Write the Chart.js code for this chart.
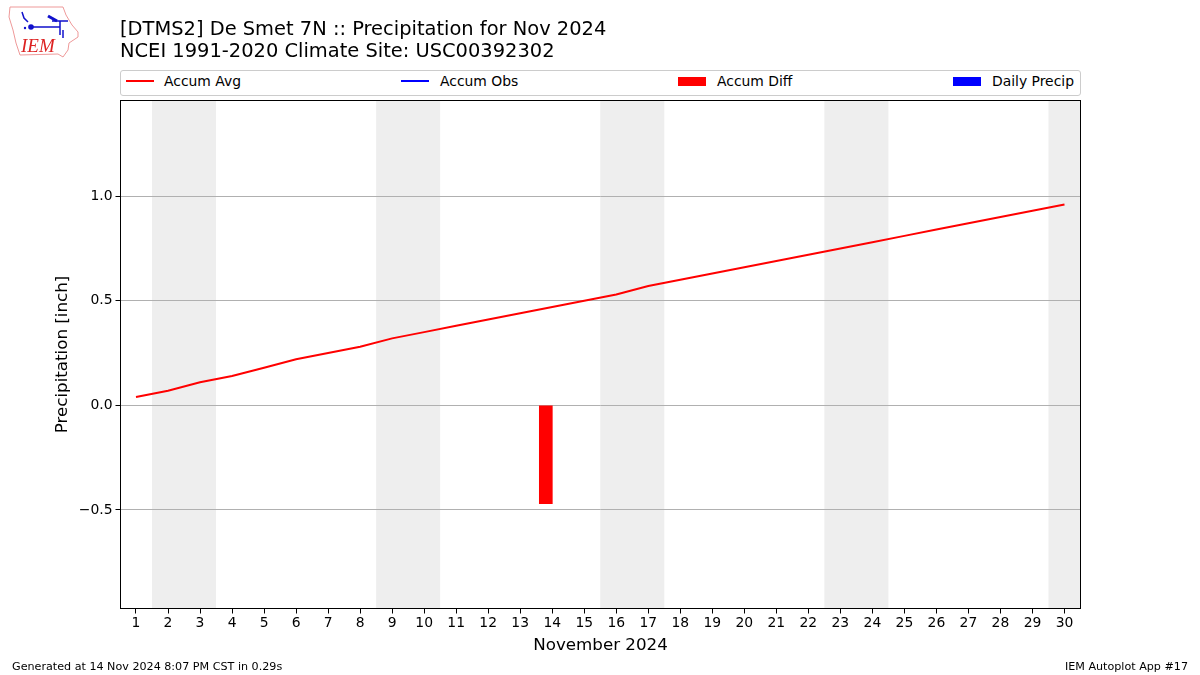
<!DOCTYPE html>
<html>
<head>
<meta charset="utf-8">
<title>DTMS2 Precipitation</title>
<script src="https://cdn.jsdelivr.net/npm/chart.js@4"></script>
<style>
  html, body { margin: 0; padding: 0; background: #fff; }
  body { width: 1200px; height: 675px; position: relative; overflow: hidden; font-family: "DejaVu Sans", sans-serif; color: #000; }
  #myChart { position: absolute; left: 0; top: 0; }
  .txt { position: absolute; white-space: nowrap; }
  #title { left: 120px; top: 18px; font-size: 19.45px; line-height: 22px; }
  #legend { position: absolute; left: 120px; top: 70px; width: 959px; height: 24px; border: 1px solid #ccc; border-radius: 3px; background: #fff; }
  .swatch { position: absolute; width: 28px; }
  .label { position: absolute; top: 2px; font-size: 13.9px; line-height: 17px; white-space: nowrap; }
  #logo { position: absolute; left: 0; top: 0; }
</style>
</head>
<body>
<canvas id="myChart" width="1200" height="675"></canvas>

<svg id="logo" width="90" height="65" viewBox="0 0 90 65">
  <path d="M10 7 L63 7 L66 15 L72 25 L78 32 L78 37 L69 43 L68 50 L63 57 L58 54 L20 55 L16 43 L13 30 L9 17 Z" fill="none" stroke="#e99" stroke-width="1"/>
  <g stroke="#11c" stroke-width="1.5" fill="none">
    <path d="M31 27 L60 27 M60 21 L60 35 M52 21 L68 21 M22 12 L24 18 L28 22"/>
    <path d="M48 16 L57 21" stroke-width="3"/>
    <path d="M63 30 L63 38"/>
  </g>
  <circle cx="31" cy="27" r="2.8" fill="#11c"/>
  <circle cx="25" cy="28" r="1.2" fill="#11c"/>
  <text x="21" y="52" font-family="Liberation Serif" font-style="italic" font-size="19" fill="#d22">IEM</text>
</svg>

<div id="title" class="txt">[DTMS2] De Smet 7N :: Precipitation for Nov 2024<br>NCEI 1991-2020 Climate Site: USC00392302</div>
<div id="legend"></div>
<div class="txt" style="left:12px;top:660px;font-size:11.15px;line-height:13px;">Generated at 14 Nov 2024 8:07 PM CST in 0.29s</div>
<div class="txt" style="right:12px;top:660px;font-size:11.15px;line-height:13px;">IEM Autoplot App #17</div>

<script>
const days = [1,2,3,4,5,6,7,8,9,10,11,12,13,14,15,16,17,18,19,20,21,22,23,24,25,26,27,28,29,30];
const accumAvg = [0.04,0.07,0.11,0.14,0.18,0.22,0.25,0.28,0.32,0.35,0.38,0.41,0.44,0.47,0.50,0.53,0.57,0.60,0.63,0.66,0.69,0.72,0.75,0.78,0.81,0.84,0.87,0.90,0.93,0.96];
const accumObs = [];
const accumDiff = [{ x: 13.8, y: -0.47 }];
const dailyPrecip = [];
const yTicks = [-0.5, 0, 0.5, 1.0];
const weekendStart = [1.5, 8.5, 15.5, 22.5, 29.5];
const weekendEnd = [3.5, 10.5, 17.5, 24.5, 30.5];

const legendItems = [
  { label: 'Accum Avg', color: 'rgb(255, 0, 0)', kind: 'line', x: 5, tx: 43 },
  { label: 'Accum Obs', color: 'rgb(0, 0, 255)', kind: 'line', x: 280, tx: 319 },
  { label: 'Accum Diff', color: 'rgb(255, 0, 0)', kind: 'bar', x: 557, tx: 596 },
  { label: 'Daily Precip', color: 'rgb(0, 0, 255)', kind: 'bar', x: 832, tx: 871 }
];

const legendBox = document.getElementById('legend');
legendItems.forEach((item) => {
  const sw = document.createElement('div');
  sw.className = 'swatch';
  sw.style.left = item.x + 'px';
  sw.style.background = item.color;
  sw.style.top = item.kind === 'line' ? '9px' : '6px';
  sw.style.height = item.kind === 'line' ? '2px' : '9px';
  legendBox.appendChild(sw);
  const lb = document.createElement('div');
  lb.className = 'label';
  lb.style.left = item.tx + 'px';
  lb.innerText = item.label;
  legendBox.appendChild(lb);
});

const bands = {
  id: 'bands',
  beforeDraw(chart) {
    const { ctx, chartArea, scales } = chart;
    ctx.save();
    ctx.fillStyle = '#eeeeee';
    weekendStart.forEach((start, i) => {
      const x0 = scales.x.getPixelForValue(start);
      const x1 = scales.x.getPixelForValue(weekendEnd[i]);
      ctx.fillRect(x0, chartArea.top, x1 - x0, chartArea.bottom - chartArea.top);
    });
    ctx.restore();
  }
};

const frame = {
  id: 'frame',
  afterDraw(chart) {
    const { ctx, chartArea } = chart;
    ctx.save();
    ctx.strokeStyle = '#000';
    ctx.lineWidth = 1;
    ctx.strokeRect(chartArea.left, chartArea.top, chartArea.right - chartArea.left, chartArea.bottom - chartArea.top);
    ctx.restore();
  }
};

const tickFont = { family: '"DejaVu Sans"', size: 13.9 };
const titleFont = { family: '"DejaVu Sans"', size: 16.7 };

const myChart = new Chart(document.getElementById('myChart').getContext('2d'), {
  data: {
    labels: days,
    datasets: [
      { type: 'line', label: 'Accum Avg', data: accumAvg, borderColor: 'rgb(255, 0, 0)', borderWidth: 2, pointRadius: 0, tension: 0, order: 1 },
      { type: 'line', label: 'Accum Obs', data: accumObs, borderColor: 'rgb(0, 0, 255)', borderWidth: 2, pointRadius: 0, order: 2 },
      { type: 'bar', label: 'Accum Diff', data: accumDiff, backgroundColor: 'rgb(255, 0, 0)', barThickness: 13, grouped: false, order: 3 },
      { type: 'bar', label: 'Daily Precip', data: dailyPrecip, backgroundColor: 'rgb(0, 0, 255)', barThickness: 13, grouped: false, order: 4 }
    ]
  },
  options: {
    responsive: false,
    animation: false,
    devicePixelRatio: 1,
    layout: { padding: { left: 0, right: 119.5, top: 100.5, bottom: 0 } },
    plugins: { legend: { display: false }, title: { display: false }, tooltip: { enabled: false } },
    scales: {
      x: {
        type: 'linear',
        min: 0.516,
        max: 30.5,
        offset: false,
        grid: { offset: false, drawOnChartArea: false, tickColor: '#000', tickLength: 5, lineWidth: 1 },
        border: { color: '#000' },
        afterBuildTicks(scale) { scale.ticks = days.map((d) => ({ value: d })); },
        afterFit(scale) { scale.height = 66.5; },
        ticks: { color: '#000', font: tickFont, maxRotation: 0, autoSkip: false, padding: 2, callback: (v) => String(v) },
        title: { display: true, text: 'November 2024', color: '#000', font: titleFont, padding: { top: 0, bottom: 19 } }
      },
      y: {
        min: -0.971,
        max: 1.457,
        grid: { color: '#b0b0b0', tickColor: '#000', tickLength: 5, lineWidth: 1 },
        border: { color: '#000' },
        afterBuildTicks(scale) { scale.ticks = yTicks.map((v) => ({ value: v })); },
        afterFit(scale) { scale.width = 120.5; },
        ticks: { color: '#000', font: tickFont, padding: 3, callback: (v) => (v < 0 ? '\u2212' : '') + Math.abs(v).toFixed(1) },
        title: { display: true, text: 'Precipitation [inch]', color: '#000', font: titleFont, padding: { top: 53, bottom: 0 } }
      }
    }
  },
  plugins: [bands, frame]
});
</script>
</body>
</html>
